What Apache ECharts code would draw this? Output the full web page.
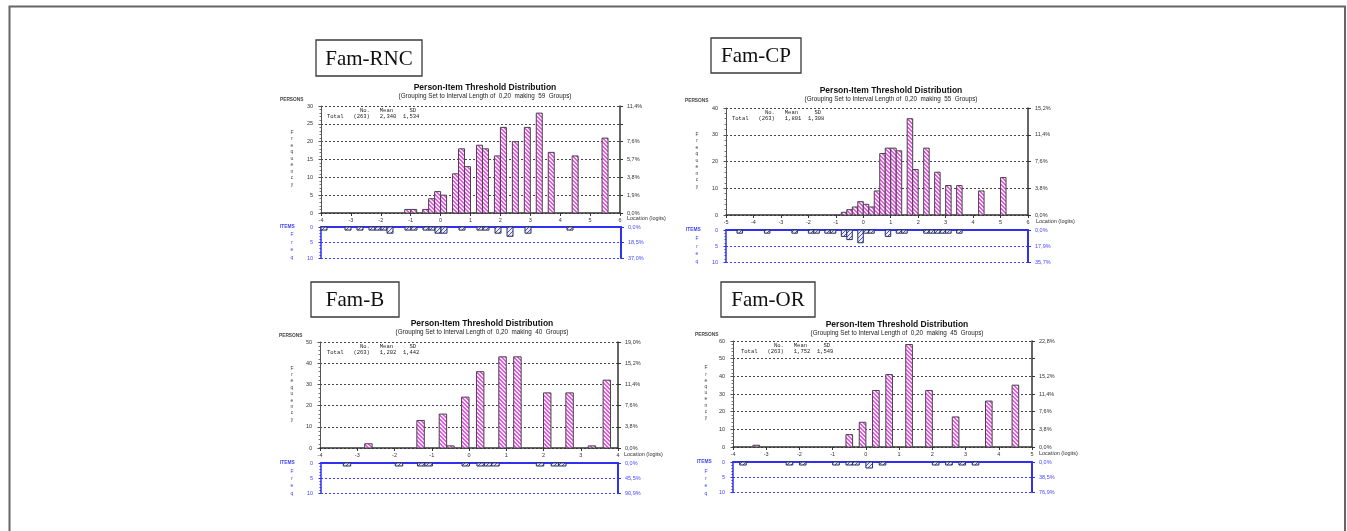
<!DOCTYPE html>
<html>
<head>
<meta charset="utf-8">
<script src="https://cdn.jsdelivr.net/npm/echarts@6/dist/echarts.min.js"></script>
<style>
  html, body { margin: 0; background: #fff; }
  #chart { width: 1347px; height: 531px; }
</style>
</head>
<body>
<div id="chart"></div>
<script>
// ---- data (bin start in logits, count per 0,20 bin) ----
const rncPersonStart = [-1.2, -1.0, -0.6, -0.4, -0.2, 0, 0.4, 0.6, 0.8, 1.2, 1.4, 1.8, 2.0, 2.4, 2.8, 3.2, 3.6, 4.4, 5.4];
const rncPersonCount = [1, 1, 1, 4, 6, 5, 11, 18, 13, 19, 18, 16, 24, 20, 24, 28, 17, 16, 21];
const rncItemStart = [-4.0, -3.2, -2.8, -2.4, -2.2, -2.0, -1.8, -1.2, -1.0, -0.6, -0.4, -0.2, 0, 0.6, 1.2, 1.4, 1.8, 2.2, 2.8, 4.2];
const rncItemCount = [1, 1, 1, 1, 1, 1, 2, 1, 1, 1, 1, 2, 2, 1, 1, 1, 2, 3, 2, 1];

const cpPersonStart = [-0.8, -0.6, -0.4, -0.2, 0, 0.2, 0.4, 0.6, 0.8, 1.0, 1.2, 1.6, 1.8, 2.2, 2.6, 3.0, 3.4, 4.2, 5.0];
const cpPersonCount = [1, 2, 3, 5, 4, 3, 9, 23, 25, 25, 24, 36, 17, 25, 16, 11, 11, 9, 14];
const cpItemStart = [-4.6, -3.6, -2.6, -2.0, -1.8, -1.4, -1.2, -0.8, -0.6, -0.2, 0, 0.2, 0.8, 1.2, 1.4, 2.2, 2.4, 2.6, 2.8, 3.0, 3.4];
const cpItemCount = [1, 1, 1, 1, 1, 1, 1, 2, 3, 4, 1, 1, 2, 1, 1, 1, 1, 1, 1, 1, 1];

const bPersonStart = [-2.8, -1.4, -0.8, -0.6, -0.2, 0.2, 0.8, 1.2, 2.0, 2.6, 3.2, 3.6];
const bPersonCount = [2, 13, 16, 1, 24, 36, 43, 43, 26, 26, 1, 32];
const bItemStart = [-3.4, -2.0, -1.4, -1.2, -0.2, 0.2, 0.4, 0.6, 1.8, 2.2, 2.4];
const bItemCount = [1, 1, 1, 1, 1, 1, 1, 1, 1, 1, 1];

const orPersonStart = [-3.4, -0.6, -0.2, 0.2, 0.6, 1.2, 1.8, 2.6, 3.6, 4.4];
const orPersonCount = [1, 7, 14, 32, 41, 58, 32, 17, 26, 35];
const orItemStart = [-3.8, -2.4, -2.0, -1.0, -0.6, -0.4, 0, 0.4, 2.0, 2.4, 2.8, 3.2];
const orItemCount = [1, 1, 1, 1, 1, 1, 2, 1, 1, 1, 1, 1];

// right-hand percentage tick labels
const rncPctTicks = [0, 5, 10, 15, 20, 30];
const rncPctLabels = ['0,0%', '1,9%', '3,8%', '5,7%', '7,6%', '11,4%'];
const cpPctTicks = [0, 10, 20, 30, 40];
const cpPctLabels = ['0,0%', '3,8%', '7,6%', '11,4%', '15,2%'];
const bPctTicks = [0, 10, 20, 30, 40, 50];
const bPctLabels = ['0,0%', '3,8%', '7,6%', '11,4%', '15,2%', '19,0%'];
const orPctTicks = [0, 10, 20, 30, 40, 60];
const orPctLabels = ['0,0%', '3,8%', '7,6%', '11,4%', '15,2%', '22,8%'];

const rncItemPct = ['0,0%', '18,5%', '37,0%'];
const cpItemPct = ['0,0%', '17,9%', '35,7%'];
const bItemPct = ['0,0%', '45,5%', '90,9%'];
const orItemPct = ['0,0%', '38,5%', '76,9%'];

const rncStats = ['(263)', '2,340', '1,534'];
const cpStats = ['(263)', '1,801', '1,308'];
const bStats = ['(263)', '1,202', '1,442'];
const orStats = ['(263)', '1,752', '1,549'];

const binWidth = 0.2;

// ---- layout per panel ----
const panels = [
  {name: 'Fam-RNC', groups: 59, stats: rncStats,
   person: [rncPersonStart, rncPersonCount], items: [rncItemStart, rncItemCount],
   xMin: -4, xMax: 6, yMax: 30, yStep: 5, pctTicks: rncPctTicks, pctLabels: rncPctLabels, itemPct: rncItemPct,
   pg: {left: 321, top: 106, width: 299, height: 107}, ig: {left: 321, top: 227, width: 300, height: 31},
   box: [316, 40, 106, 36], title: [485, 88], persons: [280, 100], freq: [292, 129, 6.5],
   statsPos: [327, 111], itemsLbl: [280, 227], itemFreq: [292, 231, 7.6], loc: [627, 218]},
  {name: 'Fam-CP', groups: 55, stats: cpStats,
   person: [cpPersonStart, cpPersonCount], items: [cpItemStart, cpItemCount],
   xMin: -5, xMax: 6, yMax: 40, yStep: 10, pctTicks: cpPctTicks, pctLabels: cpPctLabels, itemPct: cpItemPct,
   pg: {left: 726, top: 108, width: 302, height: 107}, ig: {left: 726, top: 230, width: 302, height: 32},
   box: [711, 38, 90, 35], title: [891, 91], persons: [685, 101], freq: [697, 131, 6.5],
   statsPos: [732, 113], itemsLbl: [686, 230], itemFreq: [697, 235, 7.6], loc: [1036, 221]},
  {name: 'Fam-B', groups: 40, stats: bStats,
   person: [bPersonStart, bPersonCount], items: [bItemStart, bItemCount],
   xMin: -4, xMax: 4, yMax: 50, yStep: 10, pctTicks: bPctTicks, pctLabels: bPctLabels, itemPct: bItemPct,
   pg: {left: 320, top: 342, width: 298, height: 106}, ig: {left: 321, top: 463, width: 297, height: 30},
   box: [311, 282, 88, 35], title: [482, 324], persons: [279, 336], freq: [292, 365, 6.4],
   statsPos: [327, 347], itemsLbl: [280, 463], itemFreq: [292, 468, 7.2], loc: [624, 454]},
  {name: 'Fam-OR', groups: 45, stats: orStats,
   person: [orPersonStart, orPersonCount], items: [orItemStart, orItemCount],
   xMin: -4, xMax: 5, yMax: 60, yStep: 10, pctTicks: orPctTicks, pctLabels: orPctLabels, itemPct: orItemPct,
   pg: {left: 733, top: 341, width: 299, height: 106}, ig: {left: 733, top: 462, width: 299, height: 30},
   box: [721, 282, 94, 35], title: [897, 325], persons: [695, 335], freq: [706, 365, 6.2],
   statsPos: [741, 346], itemsLbl: [697, 462], itemFreq: [706, 468, 7.2], loc: [1039, 453]}
];

// hatch patterns
function hatch(color, bg, dir, w) {
  const c = document.createElement('canvas');
  c.width = 4; c.height = 4;
  const g = c.getContext('2d');
  g.fillStyle = bg; g.fillRect(0, 0, 4, 4);
  g.fillStyle = color;
  for (let i = 0; i < 4; i++) {
    for (let j = 0; j < w; j++) {
      const x = ((dir > 0 ? i : 3 - i) + j) % 4;
      g.fillRect(x, i, 1, 1);
    }
  }
  return {image: c, repeat: 'repeat'};
}
const pinkFill = hatch('#e45ce4', '#fde6fd', 1, 2);
const blueFill = hatch('#4a58d0', '#eef0ff', -1, 1);

const FONT = '"Liberation Sans", Arial, sans-serif';
const BLUE = '#3030f0';
const DARK = '#333';

function binRect(fill, stroke) {
  return function (params, api) {
    const a = api.coord([api.value(0), 0]);
    const b = api.coord([api.value(1), api.value(2)]);
    return {
      type: 'rect',
      shape: {x: a[0], y: Math.min(a[1], b[1]), width: b[0] - a[0], height: Math.abs(b[1] - a[1])},
      style: {fill: fill, stroke: stroke, lineWidth: 1}
    };
  };
}

const grid = [], xAxis = [], yAxis = [], series = [], graphic = [];

graphic.push({type: 'rect', shape: {x: 9.5, y: 6.5, width: 1335.5, height: 560},
  style: {fill: 'none', stroke: '#666', lineWidth: 2}, silent: true});

panels.forEach((p, i) => {
  grid.push(p.pg, p.ig);

  xAxis.push({
    gridIndex: 2 * i, type: 'value', min: p.xMin, max: p.xMax, interval: 1,
    axisLine: {onZero: false, lineStyle: {color: DARK, width: 1.5}},
    axisTick: {length: 3, lineStyle: {color: DARK}},
    axisLabel: {fontSize: 5.5, color: DARK, margin: 4, fontFamily: FONT},
    splitLine: {show: false}
  }, {
    gridIndex: 2 * i + 1, type: 'value', min: p.xMin, max: p.xMax, interval: 1, position: 'top',
    axisLine: {onZero: false, lineStyle: {color: BLUE, width: 2}},
    axisTick: {show: false}, axisLabel: {show: false}, splitLine: {show: false}
  });

  yAxis.push({
    gridIndex: 2 * i, type: 'value', min: 0, max: p.yMax, interval: p.yStep,
    axisLine: {show: true, onZero: false, lineStyle: {color: '#555', width: 1}},
    axisTick: {show: true, length: 2.5, lineStyle: {color: '#555'}},
    minorTick: {show: true, splitNumber: 5, length: 1.5, lineStyle: {color: '#777'}},
    axisLabel: {fontSize: 5.5, color: DARK, margin: 8, fontFamily: FONT},
    splitLine: {show: true, lineStyle: {type: [2, 2], color: '#444', width: 1}}
  }, {
    gridIndex: 2 * i, type: 'value', min: 0, max: p.yMax, interval: p.yStep, position: 'right',
    axisLine: {show: true, onZero: false, lineStyle: {color: DARK, width: 1.5}},
    axisTick: {show: true, length: 3, lineStyle: {color: DARK}},
    axisLabel: {fontSize: 5.5, color: DARK, margin: 7, fontFamily: FONT,
      formatter: v => { const k = p.pctTicks.indexOf(v); return k < 0 ? '' : p.pctLabels[k]; }},
    splitLine: {show: false}
  }, {
    gridIndex: 2 * i + 1, type: 'value', min: 0, max: 10, interval: 5, inverse: true,
    axisLine: {show: true, onZero: false, lineStyle: {color: BLUE, width: 1.5}},
    axisTick: {show: true, length: 2.5, lineStyle: {color: BLUE}},
    minorTick: {show: true, splitNumber: 5, length: 1.5, lineStyle: {color: BLUE}},
    axisLabel: {fontSize: 5.5, color: '#4848ff', margin: 8, fontFamily: FONT},
    splitLine: {show: true, lineStyle: {type: [2, 2], color: '#4040ff', width: 1}}
  }, {
    gridIndex: 2 * i + 1, type: 'value', min: 0, max: 10, interval: 5, inverse: true, position: 'right',
    axisLine: {show: true, onZero: false, lineStyle: {color: BLUE, width: 2}},
    axisTick: {show: true, length: 3, lineStyle: {color: BLUE}},
    axisLabel: {fontSize: 5.5, color: '#4848ff', margin: 7, fontFamily: FONT,
      formatter: v => p.itemPct[v / 5]},
    splitLine: {show: false}
  });

  series.push({
    type: 'custom', xAxisIndex: 2 * i, yAxisIndex: 4 * i,
    renderItem: binRect(pinkFill, '#444'), encode: {x: [0, 1], y: 2},
    data: p.person[0].map((s, k) => [s, +(s + binWidth).toFixed(2), p.person[1][k]])
  }, {
    type: 'custom', xAxisIndex: 2 * i + 1, yAxisIndex: 4 * i + 2,
    renderItem: binRect(blueFill, '#2a2f55'), encode: {x: [0, 1], y: 2},
    data: p.items[0].map((s, k) => [s, +(s + binWidth).toFixed(2), p.items[1][k]])
  });

  const txt = (x, y, text, extra) => graphic.push({
    type: 'text', x: x, y: y, silent: true,
    style: Object.assign({text: text, fontFamily: FONT, fontSize: 5.5, fill: DARK,
      align: 'left', verticalAlign: 'middle', textAlign: 'left', textVerticalAlign: 'middle'}, extra || {})
  });

  // label box
  graphic.push({type: 'rect', silent: true,
    shape: {x: p.box[0], y: p.box[1], width: p.box[2], height: p.box[3]},
    style: {fill: '#fff', stroke: '#3a3a3a', lineWidth: 1.3}});
  txt(p.box[0] + p.box[2] / 2, p.box[1] + p.box[3] / 2 + 1, p.name,
    {fontFamily: '"Liberation Serif", "Times New Roman", serif', fontSize: 21, fill: '#111',
     align: 'center', textAlign: 'center'});

  // titles
  txt(p.title[0], p.title[1], 'Person-Item Threshold Distribution',
    {fontSize: 8.5, fontWeight: 'bold', fill: '#111', align: 'center', textAlign: 'center'});
  txt(p.title[0], p.title[1] + 8.5,
    '(Grouping Set to Interval Length of  0,20  making  ' + p.groups + '  Groups)',
    {fontSize: 6.3, fill: '#222', align: 'center', textAlign: 'center'});

  txt(p.persons[0], p.persons[1], 'PERSONS', {fontSize: 4.8, fontWeight: 'bold', fill: '#444'});
  txt(p.freq[0], p.freq[1], 'Frequency'.split('').join('\n'),
    {fontSize: 5, lineHeight: p.freq[2], fill: '#444', align: 'center', textAlign: 'center',
     verticalAlign: 'top', textVerticalAlign: 'top'});

  // summary statistics
  const mono = {fontFamily: '"Liberation Mono", "DejaVu Sans Mono", monospace', fontSize: 5.5, fill: '#222'};
  txt(p.statsPos[0], p.statsPos[1], '          No.   Mean     SD', mono);
  txt(p.statsPos[0], p.statsPos[1] + 6,
    'Total   ' + p.stats[0] + '   ' + p.stats[1] + '  ' + p.stats[2], mono);

  txt(p.loc[0], p.loc[1], 'Location (logits)', {fontSize: 5.5});

  txt(p.itemsLbl[0], p.itemsLbl[1], 'ITEMS', {fontSize: 4.8, fontWeight: 'bold', fill: '#4040ff'});
  txt(p.itemFreq[0], p.itemFreq[1], 'Freq'.split('').join('\n'),
    {fontSize: 5, lineHeight: p.itemFreq[2], fill: '#4040ff', align: 'center', textAlign: 'center',
     verticalAlign: 'top', textVerticalAlign: 'top'});
});

const chart = echarts.init(document.getElementById('chart'), null, {renderer: 'canvas'});
chart.setOption({
  animation: false,
  backgroundColor: '#fff',
  grid: grid,
  xAxis: xAxis,
  yAxis: yAxis,
  series: series,
  graphic: graphic
});
</script>
</body>
</html>
